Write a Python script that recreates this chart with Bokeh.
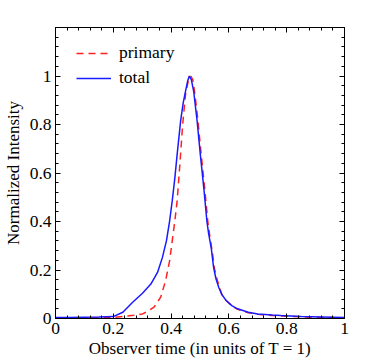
from bokeh.plotting import figure
from bokeh.models import (LinearAxis, FixedTicker, CustomJSTickFormatter,
                          Legend, LegendItem, Range1d)
from bokeh.embed import file_html
from bokeh.resources import INLINE

# ---- data ----
total_t = [0.0, 0.05, 0.1, 0.15, 0.2, 0.233, 0.267, 0.301, 0.33, 0.353, 0.37, 0.384,
           0.395, 0.404, 0.413, 0.421, 0.433, 0.442, 0.45, 0.457, 0.463, 0.47, 0.478,
           0.49, 0.501, 0.513, 0.524, 0.53, 0.539, 0.547, 0.555, 0.565, 0.575, 0.59,
           0.61, 0.63, 0.667, 0.70, 0.75, 0.78, 0.85, 0.92, 1.0]
total_v = [0.004, 0.004, 0.005, 0.006, 0.008, 0.026, 0.067, 0.104, 0.142, 0.19, 0.252,
           0.321, 0.403, 0.486, 0.58, 0.678, 0.815, 0.89, 0.938, 0.978, 1.0, 0.985,
           0.938, 0.815, 0.678, 0.54, 0.40, 0.349, 0.29, 0.211, 0.165, 0.128, 0.10,
           0.075, 0.053, 0.04, 0.026, 0.019, 0.014, 0.012, 0.008, 0.006, 0.004]

primary_t = [0.0, 0.1, 0.2, 0.233, 0.27, 0.301, 0.32, 0.341, 0.364, 0.381, 0.395,
             0.404, 0.413, 0.421, 0.43, 0.44, 0.45, 0.46, 0.468, 0.475, 0.481, 0.493,
             0.504, 0.516, 0.527, 0.535, 0.542, 0.55, 0.56, 0.575, 0.59, 0.61, 0.63,
             0.667, 0.70, 0.75, 0.80, 0.90, 1.0]
primary_v = [0.002, 0.003, 0.004, 0.008, 0.013, 0.019, 0.03, 0.047, 0.088, 0.156,
             0.239, 0.321, 0.403, 0.486, 0.63, 0.80, 0.925, 0.983, 1.0, 0.985, 0.938,
             0.815, 0.678, 0.54, 0.40, 0.33, 0.28, 0.205, 0.157, 0.10, 0.074, 0.052,
             0.038, 0.024, 0.017, 0.012, 0.009, 0.005, 0.003]

x_ticks = [0, 0.2, 0.4, 0.6, 0.8, 1.0]
y_ticks = [0, 0.2, 0.4, 0.6, 0.8, 1.0]
x_minor = [i * 0.04 for i in range(26)]
y_minor = [i * 0.04 for i in range(31)]

FONT = "Times New Roman"
FS = "17px"
FS_TICK = "17.5px"

p = figure(width=382, height=360, output_backend="svg", toolbar_location=None,
           x_range=Range1d(0, 1), y_range=Range1d(0, 1.2),
           min_border_left=52, min_border_right=38, min_border_top=27,
           min_border_bottom=42, x_axis_location=None, y_axis_location=None)
p.grid.visible = False
p.outline_line_color = None

fmt = CustomJSTickFormatter(code="var s = tick.toFixed(1); return s.replace(/\\.0$/, '');")
blank = CustomJSTickFormatter(code="return '';")

def make_axis(ticks, minor, labels):
    ax = LinearAxis(ticker=FixedTicker(ticks=ticks, minor_ticks=minor),
                    formatter=fmt if labels else blank)
    ax.axis_line_color = "black"
    ax.major_tick_in = 5
    ax.major_tick_out = 0
    ax.minor_tick_in = 3
    ax.minor_tick_out = 0
    ax.major_label_text_font = FONT
    ax.major_label_text_font_style = "normal"
    ax.major_label_text_font_size = FS_TICK if labels else "1px"
    ax.major_label_text_color = "black"
    ax.major_label_standoff = 4 if labels else 0
    ax.axis_label_text_font = FONT
    ax.axis_label_text_font_size = FS
    ax.axis_label_text_font_style = "normal"
    ax.axis_label_text_color = "black"
    ax.axis_label_standoff = 2
    return ax

xb = make_axis(x_ticks, x_minor, True)
xb.axis_label = "Observer time (in units of T = 1)"
yl = make_axis(y_ticks, y_minor, True)
yl.axis_label = "Normalized Intensity"
yl.axis_label_standoff = 4
p.add_layout(xb, "below")
p.add_layout(yl, "left")
p.add_layout(make_axis(x_ticks, x_minor, False), "above")
p.add_layout(make_axis(y_ticks, y_minor, False), "right")

r_primary = p.line(primary_t, primary_v, line_color="#ff2020", line_width=1.5,
                   line_dash="7 5")
r_total = p.line(total_t, total_v, line_color="#1a1aff", line_width=1.5)

legend = Legend(items=[LegendItem(label="primary", renderers=[r_primary]),
                       LegendItem(label="total", renderers=[r_total])],
                location=(21, 230), orientation="vertical")
legend.border_line_color = None
legend.background_fill_alpha = 0
legend.padding = 0
legend.margin = 0
legend.spacing = 4
legend.glyph_width = 35
legend.label_standoff = 8
legend.label_height = 20
legend.label_text_font = FONT
legend.label_text_font_style = "normal"
legend.label_text_font_size = FS_TICK
legend.label_text_color = "black"
p.add_layout(legend, "center")

open("out.html", "w").write(file_html(p, INLINE))
